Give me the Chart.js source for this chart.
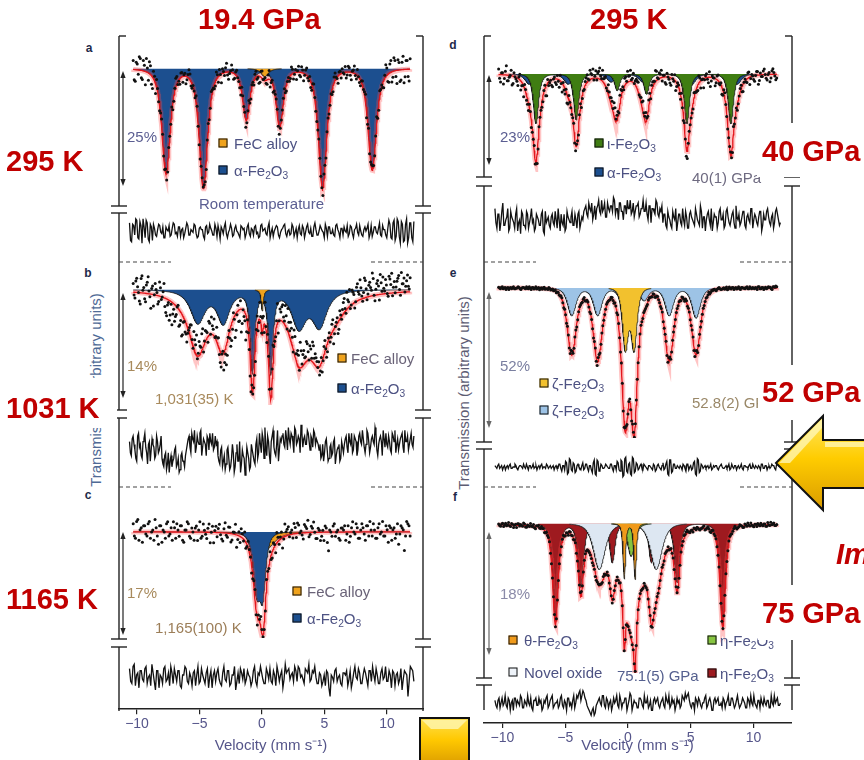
<!DOCTYPE html>
<html><head><meta charset="utf-8">
<script src="https://cdn.jsdelivr.net/npm/chart.js@4.4.1/dist/chart.umd.min.js"></script>
<style>
html,body{margin:0;padding:0;background:#fff;}
#fig{position:relative;width:864px;height:760px;overflow:hidden;background:#fff;font-family:"Liberation Sans",Arial,sans-serif;}
#fig canvas{position:absolute;}
.t{position:absolute;white-space:nowrap;line-height:1;transform:translateY(-50%);font-size:15px;z-index:3;}
.t sub{font-size:0.68em;line-height:0;vertical-align:-0.3em;}
.sq{position:absolute;width:7px;height:7px;border:1px solid #111;transform:translate(-50%,-50%);z-index:3;}
.lab{position:absolute;font-weight:bold;font-size:12px;color:#1e2a4a;transform:translate(-50%,-50%);z-index:3;}
.red{position:absolute;white-space:nowrap;line-height:1;transform:translateY(-50%);font-weight:bold;font-size:29px;color:#c00000;z-index:6;}
.rot{position:absolute;white-space:nowrap;line-height:1;transform:translate(-50%,-50%) rotate(-90deg);font-size:15px;z-index:3;}
</style></head><body><div id="fig"></div>
<script>
// ===================== DATA =====================
const velocityRange = [-10.6, 12.15];          // measured channel span (mm/s)
const tickValues = [-10, -5, 0, 5, 10];          // x tick labels
// fitted sub-spectra, each line: [centre (mm/s), depth (% absorption), half width (mm/s)]
const alphaA = [[-7.9,23.5,0.4],[-4.83,26.8,0.4],[-1.31,11.4,0.35],[1.44,13.0,0.35],[4.96,26.8,0.4],[9.04,22.8,0.4]];
const fecA   = [[0.2,1.8,0.35]];
const alphaB = [[-5.3,4.6,0.7],[-3.2,4.6,0.6],[-0.8,11.5,0.22],[0.7,11.5,0.22],[3.0,5.2,0.7],[4.7,5.0,0.7]];
const fecB   = [[0.0,3.0,0.1]];
const broadB = [[-5.3,4.0,1.4],[-3.3,2.5,0.8],[3.8,5.5,2.0],[6.0,1.5,1.0],[-0.8,1.5,0.3],[0.7,1.5,0.3]];
const alphaC = [[-0.45,10,0.35],[0.05,9.5,0.28]];
const fecC   = [[0.2,3.2,0.9]];
const sharpC = [[0.1,2.5,0.22]];
const iotaD  = [[-7.55,13.5,0.25],[-4.25,12.5,0.25],[-0.9,4.5,0.25],[1.5,5.5,0.25],[4.8,13.5,0.25],[8.39,13.5,0.25]];
const alphaD = [[-8.1,2.8,0.4],[-4.9,2.8,0.4],[-1.4,2.2,0.4],[1.2,2.2,0.4],[5.2,2.8,0.4],[8.9,2.8,0.4]];
const broadD = [[-7.55,9.5,0.5],[-4.25,6.4,0.5],[-1.05,7.5,0.5],[1.35,6.0,0.5],[4.8,6.0,0.5],[8.39,7.7,0.5]];
const zetaBlueE   = [[-4.62,11,0.4],[-2.5,11,0.4],[-0.5,5,0.4],[1.3,5,0.4],[3.35,11,0.4],[5.55,12,0.4]];
const zetaYellowE = [[-0.24,24,0.28],[0.48,24,0.28]];
const broadE = [[-4.62,15.5,0.45],[-2.5,18,0.45],[3.35,18,0.45],[5.55,14.5,0.45],[-0.24,24,0.36],[0.48,29,0.36]];
const etaRedF   = [[-5.95,15,0.26],[-3.88,9.7,0.26],[-1.3,6,0.25],[1.9,6,0.25],[4.0,9,0.26],[7.73,15.5,0.26]];
const novelF    = [[-2.37,7,0.55],[2.29,7,0.55]];
const etaGreenF = [[0.24,5,0.35]];
const thetaF    = [[-0.32,8.5,0.12],[0.56,8.5,0.12]];
const broadF    = [[0.3,11.5,1.3]];
// residuals (data - fit): even channels (…1) and odd channels (…2), read across the velocity span
const resA1 = [6,-8,4,9,-5,7,-9,3,8,-6,5,-7,2,-4,5,-1,3,-5,1,4,-3,6,-2,-4,3,1,-5,2,4,-3,0,5,-2,-4,3,1,-6,4,-1,2,-3,5,-4,0,3,-2,6,-5,1,2,-3,4,-1,-5,3,2,-2,5,-4,1,3,-2,-5,4,0,2,-3,6,-1,-4,2,3,-5,1,4,-2,0,-3,5,-4,2,1,-2,4,-5,3,-1,2,-4,6,-3,0,2,-1,5,-4,3,-2,-3,4,1,-5,2,3,-1,-4,4,-2,1,5,-3,0,-4,3,2,-5,4,-1,3,-2,6,-4,1,-3,2,5,-6,8,-4,7,-9,5,-7,9,-5,6,-8,7];
const resA2 = [-7,5,-3,8,-6,4,9,-5,6,-8,3,5,-3,1,4,-2,-5,3,0,-4,2,5,-1,3,-4,2,-2,6,-3,1,-1,4,-5,2,1,-4,3,-2,5,0,-3,2,4,-6,1,3,-2,-1,5,-4,2,0,-3,4,1,-5,3,-2,2,-3,4,-1,-4,5,1,-2,3,-5,2,0,4,-3,-1,2,5,-4,1,-2,3,-1,-5,4,-3,2,-1,5,-2,-4,3,1,-3,4,0,-5,2,3,-2,1,-4,5,-1,2,-3,0,4,-2,3,-5,2,-1,4,-3,1,0,5,-2,-4,3,-1,2,-3,4,1,-5,8,-5,6,-7,9,-4,7,-8,5,-9,6,-5];
const resB1 = [3,-2,5,0,-4,6,2,-3,4,1,-5,3,0,2,-3,5,-1,2,-3,-6,-1,-5,-8,-2,-4,0,-6,-3,-7,-1,-4,-2,2,5,-1,4,7,1,3,6,-2,4,2,5,0,3,6,1,2,-2,-5,1,-4,-7,0,-3,-6,2,-8,-1,-4,3,-5,-2,-9,1,-3,-6,0,-4,2,-3,6,-1,4,8,-2,3,-5,5,1,-2,7,0,3,6,1,4,8,2,5,-1,7,3,4,9,1,5,2,6,0,4,7,2,3,0,-3,2,-1,4,-4,1,-2,3,-5,0,2,-3,1,2,5,-1,3,6,0,4,-2,5,3,7,1,2,6,-1,4,3,8,0,2,5,-2,4,6,1,3,-1,5,7,2,0,4,6,-1,3,5,2,6,1];
const resB2 = [-1,4,2,-3,5,1,-2,3,6,-1,2,-4,4,1,-2,3,0,5,-5,-2,-7,-1,-4,-6,-3,1,-5,-8,-2,-4,-6,0,4,1,6,3,-1,5,2,7,1,3,-2,4,6,2,0,5,3,-4,0,-6,-2,-5,1,-7,-3,-1,-6,2,-4,-8,0,-3,-5,-1,-7,2,-2,-5,4,-1,2,6,-3,1,5,-2,3,7,-1,2,-4,4,5,2,7,0,4,6,3,8,2,5,-1,6,4,2,7,3,5,1,6,4,2,2,-2,-4,3,0,-3,2,-1,4,-2,1,-4,3,-1,4,1,6,2,-1,5,3,0,6,2,4,-1,7,3,1,5,2,6,-2,4,3,7,1,2,5,0,6,3,-1,4,2,5,1,7,3,0,4,2,5];
const resC1 = [4,-3,6,1,-5,3,-2,5,0,-4,2,-6,3,1,-3,5,-1,-4,2,4,-2,3,-5,1,4,-3,0,2,-4,5,-2,1,-3,4,0,-5,3,2,-1,-4,5,-2,3,-3,1,-6,2,4,-1,-3,3,0,-2,5,-4,1,2,-3,4,-1,-2,3,-4,2,1,-5,6,3,-1,2,5,-2,4,1,-3,3,6,-1,2,0,-3,1,-2,-4,2,-9,0,3,-2,1,-4,2,3,-1,-5,2,0,4,-3,1,2,-4,3,5,-2,1,-3,4,0,-2,3,-5,2,1,-3,4,-1,2,-9,5,3,-2];
const resC2 = [-2,5,-4,2,3,-1,4,-3,1,6,-2,3,-5,0,4,-2,2,5,-3,1,3,-4,1,5,-2,2,-4,3,1,-3,4,-1,2,-5,3,1,-2,4,-3,2,-1,3,-4,1,5,-2,-3,2,4,-1,1,-4,3,-2,2,5,-1,-3,2,4,-3,1,5,-2,3,-1,2,4,1,-2,3,5,0,-1,4,2,-2,3,5,-3,2,-4,1,3,-5,1,-2,4,0,-3,2,1,-4,3,-2,5,-1,2,-3,4,-1,3,-2,1,4,-3,2,-1,5,-2,1,3,-4,2,-1,-6,3,1,-2,4];
const resD1 = [3,-4,1,-2,5,-3,0,-5,2,-1,-4,3,-2,-6,1,-3,2,-4,0,-2,-5,1,-1,-3,2,-6,-2,0,-4,1,-3,-1,3,-5,-2,1,-4,0,-2,2,-3,-1,1,-4,0,2,4,0,3,5,1,-1,4,2,6,3,0,5,2,4,7,1,3,5,2,-1,4,6,3,1,5,2,4,0,3,6,2,1,4,-2,3,1,5,0,2,-2,1,-4,0,-3,2,-1,-5,1,-2,3,-3,0,-4,2,-1,-3,1,-2,4,-4,0,-1,2,-3,-5,1,0,-2,3,-1,-4,2,0,-3,1,-2,4,-1,-3,0,2,-4,1,-2,3,-1,0,-3,2,-5,1,-1,3,-2,0,-4,2,1,-3];
const resD2 = [-2,1,-5,2,-3,-1,3,-4,0,-2,1,-5,-1,2,-3,-4,1,-2,3,-1,-4,0,-3,1,-5,2,-1,-3,0,-2,2,-4,-1,1,-3,-5,2,-1,0,-3,1,-4,2,-2,-1,3,1,5,2,-1,4,3,6,1,2,5,0,3,4,2,6,3,-1,5,2,4,1,3,6,2,0,4,5,1,3,2,5,-1,4,3,2,6,1,3,4,1,-3,2,-1,-4,0,3,-2,1,-3,-1,2,-4,1,0,-2,3,-1,-3,2,0,-5,1,-1,3,-2,0,-4,2,-1,1,-3,3,-2,-1,2,-4,0,1,-2,2,-3,0,-1,3,-4,1,-2,0,2,-3,-1,2,0,-3,1,-2,3,-1,-2];
const resE1 = [1,-1,2,0,-2,1,0,-1,2,-1,0,1,-2,1,0,2,-1,0,1,-1,2,0,-2,1,1,-1,0,2,-1,1,0,-2,1,-1,2,-3,1,4,-5,6,-2,3,-4,1,0,-2,3,-1,2,-3,1,-4,5,-6,4,-2,1,-1,2,0,-1,2,-3,1,4,-2,5,-7,6,-3,2,-5,7,-4,3,-2,1,-1,2,0,-2,1,-1,2,-3,1,0,-2,3,-1,4,-6,5,-3,2,-1,0,1,-2,1,-3,2,0,-2,3,-5,6,-4,2,-1,1,0,-1,2,-1,0,1,-2,1,0,-1,1,0,-2,2,-1,1,0,-1,2,-2,1,0,1,-1,2,-1,0,1,-2,2,-1,1,0,-1,2,1,-2,2,3];
const resE2 = [0,1,-1,1,0,-2,1,1,-1,0,2,-1,0,1,-1,0,2,-2,1,0,-1,1,0,-1,2,0,-1,1,0,-1,1,0,-1,2,-1,1,-2,3,-4,5,-3,2,-3,2,-1,1,-2,2,-1,1,-2,3,-5,5,-3,2,-1,0,1,-1,2,-1,1,-2,3,-3,4,-6,7,-4,3,-6,6,-3,2,-1,2,-2,1,-1,1,0,-2,1,-2,2,-1,1,-2,2,-5,5,-4,2,-1,1,-1,0,2,-1,2,-2,1,-1,4,-6,5,-3,1,0,-1,1,0,-2,1,1,-1,0,2,-1,0,-1,2,-1,0,1,-2,1,0,-1,1,0,-1,2,-1,0,1,-1,0,2,-1,1,-2,1,0,1,-1,2,1,2];
const resF1 = [1,-2,2,0,-1,3,-2,1,0,-3,2,1,-1,2,-2,0,3,-1,-2,1,2,-1,0,-3,1,2,-2,1,3,-1,0,-2,2,-1,1,-3,2,0,1,-2,3,4,1,5,2,-1,-3,-5,-2,-4,0,2,-1,3,-2,1,0,-3,2,1,-1,3,-2,0,2,-1,4,-3,1,0,-2,2,-1,3,0,-2,1,-3,2,1,-1,0,2,-2,1,3,-1,0,-3,2,1,-1,2,4,3,1,-2,0,2,-1,1,-2,0,3,-1,2,-3,1,0,2,-1,-2,1,0,3,-1,2,-2,1,0,-1,2,0,-2,1,3,-1,0,-2,1,2,-1,0,1,-2,3,-1,0,2,-1];
const resF2 = [-1,1,-2,2,0,-1,2,-3,1,2,-1,0,3,-2,1,-1,0,2,-3,1,-1,2,1,-2,0,3,-1,2,-2,0,1,-1,3,-2,0,2,-1,-2,3,0,2,5,3,4,1,-2,-4,-3,-5,-1,1,0,3,-1,2,-2,1,-1,0,3,-2,1,0,2,-3,1,3,-1,0,-2,2,1,-2,0,2,-1,-3,1,0,2,-2,1,-1,3,0,-2,2,1,-1,0,-2,3,1,2,4,-1,0,-3,1,2,-1,0,2,-2,1,0,-3,2,1,-1,0,2,-2,1,-1,2,0,-1,3,-2,0,1,-2,2,-1,0,3,-1,1,-2,0,2,-1,1,-2,0,3,1,-1,0];

// ===================== LAYOUT / STYLE =====================
const C_BLUE='#1c4f8f', C_ORANGE='#f0a31c', C_GREEN='#3f7d12', C_YEL='#f2c12e', C_LBLUE='#9dc3e6',
      C_THETA='#f09a1a', C_ETAG='#86c540', C_NOVEL='#dde7f2', C_ETAR='#9e1a1f';
const colGeom = [{left:118,width:306,xMin:-11.52,xMax:12.96},{left:483,width:309,xMin:-11.55,xMax:13.07}];
const panelDefs = [
 {col:0, spec:{T:37,B:206,P:66,k:4.68}, res:{T:214,B:258,C:231,k:1.35}, scatter:0.33, axis:false, resid:[resA1,resA2],
  comps:[{lines:alphaA,p:1.5,range:[-10.6,12.15],color:C_BLUE},{lines:fecA,p:1.5,range:[-1.2,1.6],color:C_ORANGE}], hidden:[]},
 {col:0, spec:{T:264,B:409,P:287,k:7.5}, res:{T:419,B:484,C:450,k:2.8}, scatter:0.4, axis:false, resid:[resB1,resB2],
  comps:[{lines:alphaB,p:1.3,range:[-10.6,12.15],color:C_BLUE},{lines:fecB,p:1,range:[-0.6,0.6],color:C_ORANGE}], hidden:[{lines:broadB,p:1.2}]},
 {col:0, spec:{T:490,B:642,P:530,k:6.06}, res:{T:648,B:711,C:678,k:2.2}, scatter:0.36, axis:true, resid:[resC1,resC2],
  comps:[{lines:fecC,p:1.5,range:[-3.2,3.6],color:C_ORANGE},{lines:alphaC,p:1.6,range:[-10.6,12.15],color:C_BLUE}], hidden:[{lines:sharpC,p:1}]},
 {col:1, spec:{T:37,B:176,P:72,k:3.91}, res:{T:187,B:258,C:217,k:2.8}, scatter:0.5, axis:false, resid:[resD1,resD2],
  comps:[{lines:alphaD,p:1.5,range:[-9.8,10.6],color:C_BLUE},{lines:iotaD,p:1.5,range:[-8.9,9.8],color:C_GREEN}], hidden:[{lines:broadD,p:1.5}]},
 {col:1, spec:{T:264,B:442,P:285,k:2.62}, res:{T:450,B:484,C:467,k:1.4}, scatter:0.28, axis:false, resid:[resE1,resE2],
  comps:[{lines:zetaBlueE,p:2,range:[-6.3,7.3],color:C_LBLUE},{lines:zetaYellowE,p:2,range:[-1.6,1.9],color:C_YEL}], hidden:[{lines:broadE,p:2}]},
 {col:1, spec:{T:490,B:677,P:521,k:6.83}, res:{T:686,B:710,C:697,k:1.6}, scatter:0.12, axis:true, resid:[resF1,resF2],
  comps:[{lines:etaRedF,p:1.6,range:[-7.4,9.2],color:C_ETAR},{lines:novelF,p:2,range:[-4.8,4.8],color:C_NOVEL},
         {lines:etaGreenF,p:2,range:[-1.4,1.9],color:C_ETAG},{lines:thetaF,p:1.5,range:[-1.3,1.6],color:C_THETA}], hidden:[{lines:broadF,p:1}]}
];

// ===================== BUILD =====================
const fig = document.getElementById('fig');
function lineShape(v, c, d, hw, p){ const g = hw/Math.sqrt(Math.pow(2,1/p)-1); const u=(v-c)/g; return d/Math.pow(1+u*u,p); }
function compDepth(comp, v){ let s=0; for (const [c,d,hw] of comp.lines) s+=lineShape(v,c,d,hw,comp.p); return s; }
function grid(a,b,step){ const o=[]; for(let v=a; v<=b+1e-9; v+=step) o.push(+v.toFixed(4)); return o; }
function interleave([a,b]){ const o=[]; for(let i=0;i<Math.max(a.length,b.length);i++){ if(i<a.length) o.push(a[i]); if(i<b.length) o.push(b[i]); } return o; }
function mkCanvas(x,y,w,h){ const c=document.createElement('canvas'); c.width=w; c.height=h; c.style.left=x+'px'; c.style.top=y+'px'; c.style.zIndex=1; fig.appendChild(c); return c; }
const FONT='"Liberation Sans", Arial, sans-serif';
function mkChart(cv, cg, yMin, yMax, datasets, showX){
  const x = showX ? {
      type:'linear', min:cg.xMin, max:cg.xMax, position:'bottom',
      afterBuildTicks: s => { s.ticks = tickValues.map(v => ({value:v})); },
      ticks:{ autoSkip:false, maxRotation:0, padding:2, color:'#55558a', font:{family:FONT,size:14},
              callback: v => v < 0 ? '\u2212' + Math.abs(v) : String(v) },
      grid:{ display:true, drawOnChartArea:false, drawTicks:true, tickLength:5, color:'#222', lineWidth:1.2 },
      border:{ display:true, color:'#222', width:1.5 },
      title:{ display:true, text:'Velocity (mm s\u207B\u00B9)', color:'#55558a', font:{family:FONT,size:15}, padding:{top:2,bottom:5} }
    } : { type:'linear', min:cg.xMin, max:cg.xMax, display:false };
  return new Chart(cv, { type:'line', data:{datasets},
    options:{ responsive:false, animation:false, events:[], devicePixelRatio:1, layout:{padding:0},
      plugins:{legend:{display:false}, tooltip:{enabled:false}},
      elements:{line:{tension:0}, point:{radius:0}},
      scales:{ x, y:{type:'linear', min:yMin, max:yMax, display:false} } } });
}
panelDefs.forEach(pd => {
  const cg = colGeom[pd.col];
  const all = pd.comps.concat(pd.hidden);
  const fitAt = v => -all.reduce((s,c) => s + compDepth(c,v), 0);
  const g = grid(velocityRange[0], velocityRange[1], 0.03);
  const res = interleave(pd.resid);
  const n = res.length;
  const chan = res.map((r,i) => velocityRange[0] + i*(velocityRange[1]-velocityRange[0])/(n-1));
  const ds = [];
  const nc = pd.comps.length;
  pd.comps.forEach((c,i) => {
    ds.push({ data: grid(c.range[0], c.range[1], 0.03).map(v => ({x:v, y:-compDepth(c,v)})),
      fill:'origin', backgroundColor:c.color, borderColor:'#1b1b1b', borderWidth:0.8, pointRadius:0, order:20+nc-i });
  });
  ds.push({ data:g.map(v=>({x:v,y:fitAt(v)})), borderColor:'rgba(255,70,70,0.32)', borderWidth:5, pointRadius:0, fill:false, order:3 });
  ds.push({ data:g.map(v=>({x:v,y:fitAt(v)})), borderColor:'#e4161c', borderWidth:1.3, pointRadius:0, fill:false, order:2 });
  ds.push({ data:chan.map((v,i)=>({x:v, y:fitAt(v) + res[i]*pd.scatter})), showLine:false, pointRadius:1.5,
    pointBackgroundColor:'#111', pointBorderWidth:0, order:1 });
  const s = pd.spec;
  mkChart(mkCanvas(cg.left, s.T, cg.width, s.B - s.T), cg, -(s.B - s.P)/s.k, (s.P - s.T)/s.k, ds, false);
  const r = pd.res;
  const rd = [{ data:chan.map((v,i)=>({x:v, y:res[i]})), borderColor:'#111', borderWidth:1.3, pointRadius:0, fill:false }];
  const h = pd.axis ? 760 - r.T : r.B - r.T;
  mkChart(mkCanvas(cg.left, r.T, cg.width, h), cg, -(r.B - r.C)/r.k, (r.C - r.T)/r.k, rd, pd.axis);
});

// ---------- texts ----------
function T(html, x, cy, color, extra){ const d=document.createElement('div'); d.className='t'; d.innerHTML=html; d.style.left=x+'px'; d.style.top=cy+'px'; d.style.color=color; if(extra) Object.assign(d.style, extra); fig.appendChild(d); }
function SQ(x, y, color){ const d=document.createElement('div'); d.className='sq'; d.style.left=x+'px'; d.style.top=y+'px'; d.style.background=color; fig.appendChild(d); }
function LAB(s, x, y){ const d=document.createElement('div'); d.className='lab'; d.textContent=s; d.style.left=x+'px'; d.style.top=y+'px'; fig.appendChild(d); }
function RED(s, x, cy, italic){ const d=document.createElement('div'); d.className='red'; d.textContent=s; d.style.left=x+'px'; d.style.top=cy+'px'; if(italic) d.style.fontStyle='italic'; fig.appendChild(d); }
function ROT(s, x, y, color){ const d=document.createElement('div'); d.className='rot'; d.textContent=s; d.style.left=x+'px'; d.style.top=y+'px'; d.style.color=color; fig.appendChild(d); }
const LEG='#4d5283', TAN='#a88a5c';
const FE='-Fe<sub>2</sub>O<sub>3</sub>';
LAB('a',89,48); LAB('b',88,273); LAB('c',88,495); LAB('d',453,45); LAB('e',453,273); LAB('f',455,497);
ROT('Transmission (arbitrary units)', 95, 390, '#4f6a96');
ROT('Transmission (arbitrary units)', 463, 393, '#5d5d73');
T('25%',127,136,'#5b5e92'); SQ(223,143,C_ORANGE); T('FeC alloy',234,143,LEG); SQ(223,170,C_BLUE); T('\u03B1'+FE,234,170,LEG);
T('Room temperature',199,203,'#5b5e92');
T('14%',127,365,TAN); SQ(342,358,C_ORANGE); T('FeC alloy',351,358,'#6a6378'); SQ(342,388,C_BLUE); T('\u03B1'+FE,351,388,LEG);
T('1,031(35) K',155,398,TAN);
T('17%',127,592,TAN); SQ(297,591,C_ORANGE); T('FeC alloy',307,591,'#6a6378'); SQ(297,618,C_BLUE); T('\u03B1'+FE,307,618,LEG);
T('1,165(100) K',155,627,'#9c7e58');
T('23%',500,136,'#5b5e92'); SQ(599,143,C_GREEN); T('\u03B9'+FE,607,143,LEG); SQ(599,172,C_BLUE); T('\u03B1'+FE,607,172,LEG);
T('40(1) GPa',692,177,'#6e6a80');
T('52%',500,365,'#7a7fa0'); SQ(544,383,C_YEL); T('\u03B6'+FE,552,383,LEG); SQ(544,410,C_LBLUE); T('\u03B6'+FE,552,410,LEG);
T('52.8(2) GPa',692,402,'#9a8868');
T('18%',500,593,'#8a8aa8'); SQ(513,640,C_THETA); T('\u03B8'+FE,524,640,LEG); SQ(513,672,'#eef3f9'); T('Novel oxide',524,672,LEG);
T('75.1(5) GPa',617,675,'#55608f'); SQ(712,640,C_ETAG); T('\u03B7'+FE,720,640,LEG); SQ(712,673,C_ETAR); T('\u03B7'+FE,720,673,LEG);

// ---------- frames, boxes, decorations ----------
const ov = mkCanvas(0,0,864,760); ov.style.zIndex=4; ov.style.pointerEvents='none';
const g2 = ov.getContext('2d');
function seg(x1,y1,x2,y2){ g2.beginPath(); g2.moveTo(x1,y1); g2.lineTo(x2,y2); g2.stroke(); }
const frames = [
  {xl:119, xr:423, top:36, bottom:711, breaks:[[206,213],[410,418],[639,647]], dashes:[262,487]},
  {xl:484, xr:792, top:36, bottom:710, breaks:[[177,186],[442,449],[678,685]], dashes:[262,487]}
];
g2.strokeStyle='#222'; g2.lineWidth=1.4;
frames.forEach(f => {
  const stops=[f.top]; f.breaks.forEach(b=>{stops.push(b[0]); stops.push(b[1]);}); stops.push(f.bottom);
  for (let i=0;i<stops.length;i+=2){ seg(f.xl,stops[i],f.xl,stops[i+1]); seg(f.xr,stops[i],f.xr,stops[i+1]); }
  seg(f.xl,f.top,f.xl+7,f.top); seg(f.xr-7,f.top,f.xr,f.top);
  f.breaks.forEach(b => b.forEach(y => { seg(f.xl-8,y,f.xl+8,y); seg(f.xr-8,y,f.xr+8,y); }));
  g2.save(); g2.setLineDash([4,3]); g2.lineWidth=1.1; g2.strokeStyle='#444';
  f.dashes.forEach(y => { seg(f.xl,y,f.xl+52,y); seg(f.xr-52,y,f.xr,y); });
  g2.restore();
});
const pctArrows = [[123,71,186],[123,293,398],[123,532,635],[489,75,165],[489,292,428],[489,532,655]];
pctArrows.forEach(([x,y1,y2],i) => {
  const col = i>=4 ? '#666' : '#222';
  g2.strokeStyle=col; g2.fillStyle=col; g2.lineWidth=1.2;
  seg(x,y1+3,x,y2-3);
  g2.beginPath(); g2.moveTo(x,y1); g2.lineTo(x-2.6,y1+7); g2.lineTo(x+2.6,y1+7); g2.closePath(); g2.fill();
  g2.beginPath(); g2.moveTo(x,y2); g2.lineTo(x-2.6,y2-7); g2.lineTo(x+2.6,y2-7); g2.closePath(); g2.fill();
});
g2.fillStyle='#fff';
[[0,378,117,50],[757,123,107,54],[758,365,106,55],[758,585,106,55]].forEach(b => g2.fillRect(b[0],b[1],b[2],b[3]));
// yellow arrow
let gr = g2.createLinearGradient(0,416,0,510);
gr.addColorStop(0,'#ffe866'); gr.addColorStop(0.45,'#ffcc00'); gr.addColorStop(1,'#d99b00');
g2.beginPath(); g2.moveTo(776,463); g2.lineTo(823,416); g2.lineTo(823,440); g2.lineTo(870,440); g2.lineTo(870,488);
g2.lineTo(823,488); g2.lineTo(823,510); g2.closePath();
g2.fillStyle=gr; g2.fill(); g2.strokeStyle='#111'; g2.lineWidth=2; g2.stroke();
g2.fillStyle='rgba(255,248,190,0.75)';
g2.beginPath(); g2.moveTo(779,463); g2.lineTo(822,419); g2.lineTo(822,428); g2.lineTo(790,463); g2.closePath(); g2.fill();
g2.beginPath(); g2.moveTo(825,442); g2.lineTo(868,442); g2.lineTo(868,447); g2.lineTo(825,447); g2.closePath(); g2.fill();
// yellow square
gr = g2.createLinearGradient(0,718,0,762);
gr.addColorStop(0,'#ffe14d'); gr.addColorStop(0.5,'#ffc800'); gr.addColorStop(1,'#e0a200');
g2.fillStyle=gr; g2.fillRect(420,718,49,46); g2.strokeStyle='#111'; g2.lineWidth=2; g2.strokeRect(420,718,49,46);
g2.fillStyle='rgba(255,245,170,0.85)';
g2.beginPath(); g2.moveTo(422,720); g2.lineTo(467,720); g2.lineTo(458,729); g2.lineTo(431,729); g2.closePath(); g2.fill();

// ---------- red annotations ----------
RED('19.4 GPa',198,19); RED('295 K',590,19);
RED('295 K',6,161); RED('1031 K',6,408); RED('1165 K',6,599);
RED('40 GPa',762,151); RED('52 GPa',762,392); RED('75 GPa',762,613);
RED('Im',836,554,true);
</script>
</body></html>
